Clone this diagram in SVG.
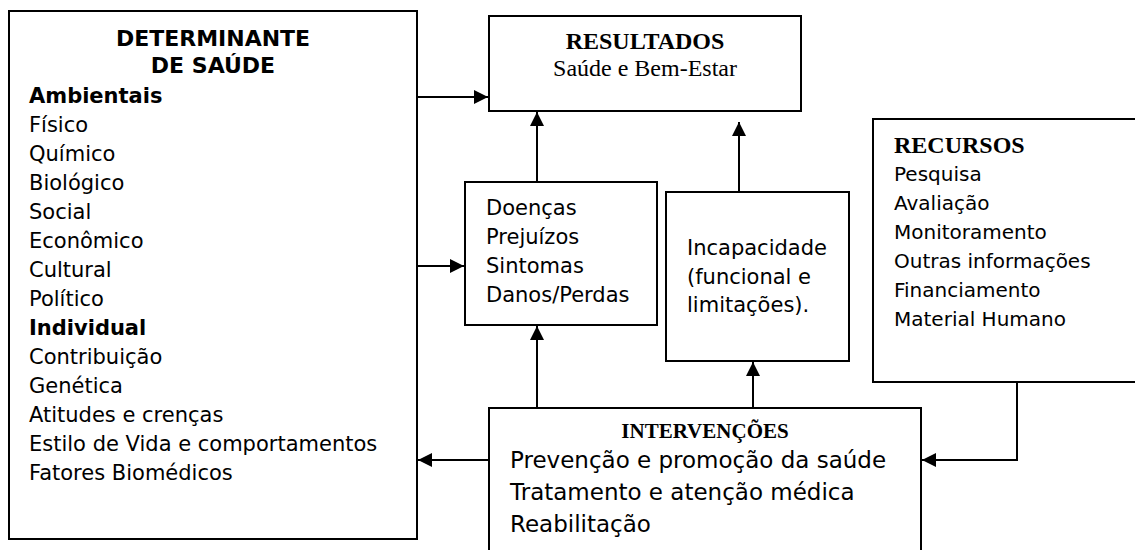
<svg xmlns="http://www.w3.org/2000/svg" width="1135" height="550" viewBox="0 0 1135 550">
<defs>
<style>
.box{fill:#fff;stroke:#000;stroke-width:2}
.ln{fill:none;stroke:#000;stroke-width:2}
.s{font-family:"DejaVu Sans",Verdana,sans-serif;font-size:21px;fill:#000}
.sb{font-family:"DejaVu Sans",Verdana,sans-serif;font-size:21px;font-weight:bold;fill:#000}
.h{font-family:"DejaVu Sans",Verdana,sans-serif;font-size:22px;font-weight:bold;fill:#000}
.t{font-family:"Liberation Serif","Times New Roman",serif;font-size:24px;fill:#000}
.tb{font-family:"Liberation Serif","Times New Roman",serif;font-size:24px;font-weight:bold;fill:#000}
.big{font-family:"DejaVu Sans",Verdana,sans-serif;font-size:23px;fill:#000}
</style>
<marker id="ah" markerUnits="userSpaceOnUse" markerWidth="14" markerHeight="14" refX="14" refY="7" orient="auto">
<path d="M0,0 L14,7 L0,14 z" fill="#000"/>
</marker>
</defs>
<rect width="1135" height="550" fill="#fff"/>
<g id="determinantes">
<rect class="box" x="9" y="11" width="408" height="528"/>
<text class="h" x="213" y="46" text-anchor="middle">DETERMINANTE</text>
<text class="h" x="213" y="73" text-anchor="middle">DE SAÚDE</text>
<text class="sb" x="29" y="103">Ambientais</text>
<text class="s" x="29" y="132">Físico</text>
<text class="s" x="29" y="161">Químico</text>
<text class="s" x="29" y="190">Biológico</text>
<text class="s" x="29" y="219">Social</text>
<text class="s" x="29" y="248">Econômico</text>
<text class="s" x="29" y="277">Cultural</text>
<text class="s" x="29" y="306">Político</text>
<text class="sb" x="29" y="335">Individual</text>
<text class="s" x="29" y="364">Contribuição</text>
<text class="s" x="29" y="393">Genética</text>
<text class="s" x="29" y="422">Atitudes e crenças</text>
<text class="s" x="29" y="451">Estilo de Vida e comportamentos</text>
<text class="s" x="29" y="480">Fatores Biomédicos</text>
</g>
<g id="resultados">
<rect class="box" x="489" y="16" width="312" height="95"/>
<text class="tb" x="645" y="49" text-anchor="middle">RESULTADOS</text>
<text class="t" x="645" y="76" text-anchor="middle">Saúde e Bem-Estar</text>
</g>
<g id="doencas">
<rect class="box" x="465" y="182" width="192" height="143"/>
<text class="s" x="486" y="215">Doenças</text>
<text class="s" x="486" y="244">Prejuízos</text>
<text class="s" x="486" y="273">Sintomas</text>
<text class="s" x="486" y="302">Danos/Perdas</text>
</g>
<g id="incapacidade">
<rect class="box" x="666" y="192" width="183" height="169"/>
<text class="s" x="687" y="255">Incapacidade</text>
<text class="s" x="687" y="284">(funcional e</text>
<text class="s" x="687" y="312">limitações).</text>
</g>
<g id="recursos">
<rect class="box" x="873" y="119" width="280" height="263"/>
<text class="tb" x="894" y="153">RECURSOS</text>
<text class="s" x="894" y="181" style="font-size:20px">Pesquisa</text>
<text class="s" x="894" y="210" style="font-size:20px">Avaliação</text>
<text class="s" x="894" y="239" style="font-size:20px">Monitoramento</text>
<text class="s" x="894" y="268" style="font-size:20px">Outras informações</text>
<text class="s" x="894" y="297" style="font-size:20px">Financiamento</text>
<text class="s" x="894" y="326" style="font-size:20px">Material Humano</text>
</g>
<g id="intervencoes">
<rect class="box" x="489" y="408" width="432" height="160"/>
<text class="tb" x="705" y="438" text-anchor="middle" style="font-size:21px">INTERVENÇÕES</text>
<text class="big" x="510" y="468">Prevenção e promoção da saúde</text>
<text class="big" x="510" y="500">Tratamento e atenção médica</text>
<text class="big" x="510" y="532">Reabilitação</text>
</g>
<g id="connectors">
<line class="ln" x1="418" y1="97" x2="488" y2="97" marker-end="url(#ah)"/>
<line class="ln" x1="418" y1="266" x2="464" y2="266" marker-end="url(#ah)"/>
<line class="ln" x1="537" y1="181" x2="537" y2="112" marker-end="url(#ah)"/>
<line class="ln" x1="739" y1="191" x2="739" y2="122" marker-end="url(#ah)"/>
<line class="ln" x1="537" y1="407" x2="537" y2="326" marker-end="url(#ah)"/>
<line class="ln" x1="753" y1="407" x2="753" y2="362" marker-end="url(#ah)"/>
<line class="ln" x1="488" y1="460" x2="418" y2="460" marker-end="url(#ah)"/>
<polyline class="ln" points="1017,383 1017,460 922,460" marker-end="url(#ah)"/>
</g>
</svg>
